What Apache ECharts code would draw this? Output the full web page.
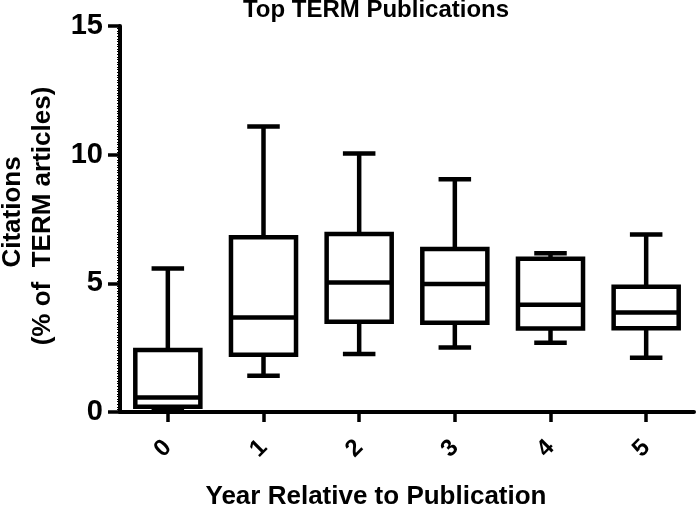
<!DOCTYPE html>
<html>
<head>
<meta charset="utf-8">
<script src="https://cdn.jsdelivr.net/npm/echarts@6/dist/echarts.min.js"></script>
<style>html,body{margin:0;padding:0;background:#fff}#c{width:698px;height:511px}</style>
</head>
<body>
<div id="c"></div>
<script>
const categories = ['0', '1', '2', '3', '4', '5'];
const whiskerLow  = [0.05, 1.41, 2.25, 2.51, 2.69, 2.11];
const q1          = [0.20, 2.22, 3.51, 3.47, 3.24, 3.25];
const median      = [0.56, 3.67, 5.03, 4.97, 4.17, 3.87];
const q3          = [2.41, 6.79, 6.92, 6.33, 5.96, 4.87];
const whiskerHigh = [5.58, 11.09, 10.05, 9.04, 6.17, 6.90];
const yMin = 0, yMax = 15, yStep = 5;

const boxData = categories.map((c, i) => [i, whiskerLow[i], q1[i], median[i], q3[i], whiskerHigh[i]]);

const FONT = '"Liberation Sans", Arial, sans-serif';

function renderItem(params, api) {
  const x = api.value(0);
  const lo = api.coord([x, api.value(1)]);
  const p1 = api.coord([x, api.value(2)]);
  const pm = api.coord([x, api.value(3)]);
  const p3 = api.coord([x, api.value(4)]);
  const hi = api.coord([x, api.value(5)]);
  const band = api.size([1, 0])[0];
  const half = band * 0.34;
  const cap = half / 2;
  const cx = lo[0];
  const ls = { stroke: '#000', lineWidth: 4.5, lineCap: 'butt' };
  return {
    type: 'group',
    children: [
      { type: 'line', shape: { x1: cx, y1: p3[1], x2: cx, y2: hi[1] }, style: ls },
      { type: 'line', shape: { x1: cx - cap, y1: hi[1], x2: cx + cap, y2: hi[1] }, style: ls },
      { type: 'line', shape: { x1: cx, y1: p1[1], x2: cx, y2: lo[1] }, style: ls },
      { type: 'line', shape: { x1: cx - cap, y1: lo[1], x2: cx + cap, y2: lo[1] }, style: ls },
      { type: 'rect', shape: { x: cx - half, y: p3[1], width: 2 * half, height: p1[1] - p3[1] },
        style: { stroke: '#000', lineWidth: 4.5, fill: '#fff' } },
      { type: 'line', shape: { x1: cx - half, y1: pm[1], x2: cx + half, y2: pm[1] }, style: ls }
    ]
  };
}

const chart = echarts.init(document.getElementById('c'), null, { renderer: 'canvas' });
chart.setOption({
  backgroundColor: '#fff',
  animation: false,
  grid: { left: 120, right: 4, top: 26, bottom: 99, containLabel: false },
  xAxis: {
    type: 'category',
    data: categories,
    boundaryGap: true,
    axisLine: { show: true, lineStyle: { color: '#000', width: 4 } },
    axisTick: { show: true, alignWithLabel: true, length: 10, lineStyle: { color: '#000', width: 3.5 } },
    axisLabel: { rotate: 45, margin: 32, color: '#000', fontSize: 24, fontWeight: 'bold', fontFamily: FONT },
    splitLine: { show: false }
  },
  yAxis: {
    type: 'value',
    min: yMin, max: yMax, interval: yStep,
    axisLine: { show: true, lineStyle: { color: '#000', width: 4 } },
    axisTick: { show: true, length: 12, lineStyle: { color: '#000', width: 3.5 } },
    minorTick: { show: true, splitNumber: 50, length: 3, lineStyle: { color: '#000', width: 1 } },
    axisLabel: { margin: 17, color: '#000', fontSize: 29, fontWeight: 'bold', fontFamily: FONT, padding: [8, 0, 0, 0] },
    splitLine: { show: false },
    minorSplitLine: { show: false }
  },
  graphic: [
    { type: 'text', x: 376, y: 10,
      style: { text: 'Top TERM Publications', align: 'center', verticalAlign: 'middle',
        fill: '#000', font: 'bold 24px ' + FONT } },
    { type: 'text', x: 376, y: 497,
      style: { text: 'Year Relative to Publication', align: 'center', verticalAlign: 'middle',
        fill: '#000', font: 'bold 26px ' + FONT } },
    { type: 'text', x: 13, y: 212, rotation: Math.PI / 2,
      style: { text: 'Citations', align: 'center', verticalAlign: 'middle',
        fill: '#000', font: 'bold 26px ' + FONT } },
    { type: 'text', x: 43, y: 216, rotation: Math.PI / 2,
      style: { text: '(% of  TERM articles)', align: 'center', verticalAlign: 'middle',
        fill: '#000', font: 'bold 26px ' + FONT } }
  ],
  series: [{
    type: 'custom',
    renderItem: renderItem,
    encode: { x: 0, y: [1, 2, 3, 4, 5] },
    data: boxData,
    clip: false
  }]
});
</script>
</body>
</html>
